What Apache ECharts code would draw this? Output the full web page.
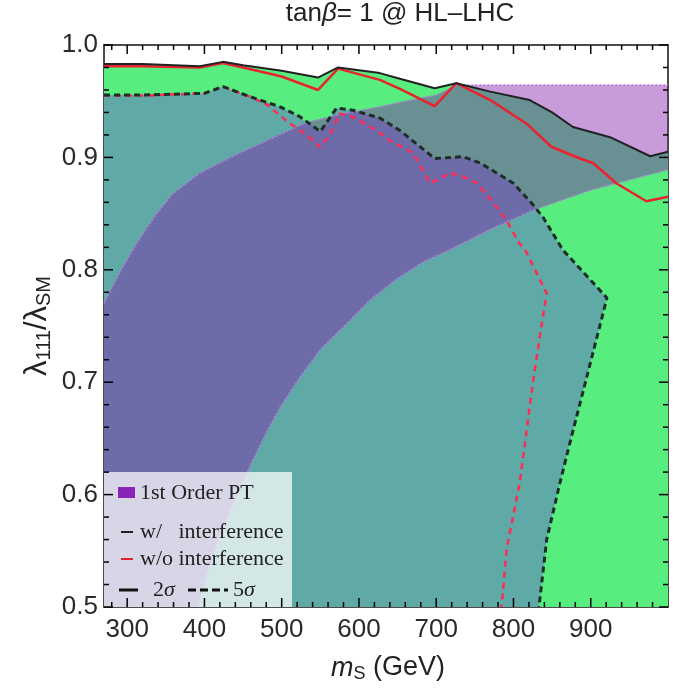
<!DOCTYPE html>
<html>
<head>
<meta charset="utf-8">
<script src="https://cdn.jsdelivr.net/npm/echarts@6/dist/echarts.min.js"></script>
<style>
  html, body { margin: 0; padding: 0; background: #fff; }
  #chart { width: 673px; height: 692px; }
</style>
</head>
<body>
<div id="chart"></div>
<script>
// curves: [m_S (GeV), lambda111 / lambdaSM]
const blackSolid = [[270, 0.983], [320, 0.983], [394, 0.981], [424, 0.985], [450, 0.982], [500, 0.977], [547, 0.971], [573, 0.980], [627, 0.975], [653, 0.970], [698, 0.9615], [726, 0.966], [770, 0.9585], [821, 0.951], [850, 0.940], [877, 0.927], [925, 0.918], [977, 0.901], [1000, 0.905]];
const redSolid = [[270, 0.981], [320, 0.981], [394, 0.980], [424, 0.984], [450, 0.980], [500, 0.972], [547, 0.960], [573, 0.979], [627, 0.969], [653, 0.961], [698, 0.9457], [726, 0.966], [770, 0.951], [817, 0.930], [849, 0.9095], [886, 0.899], [903, 0.895], [933, 0.877], [972, 0.861], [1000, 0.865]];
const blackDashed = [[270, 0.9555], [320, 0.9555], [400, 0.957], [424, 0.963], [459, 0.954], [498, 0.945], [524, 0.936], [550, 0.923], [571, 0.944], [592, 0.942], [627, 0.935], [653, 0.924], [698, 0.899], [735, 0.9006], [757, 0.895], [800, 0.877], [825, 0.858], [838, 0.847], [864, 0.8176], [921, 0.775], [895, 0.705], [873, 0.646], [860, 0.610], [843, 0.560], [834, 0.506], [833, 0.5]];
const redDashed = [[270, 0.955], [320, 0.955], [400, 0.957], [424, 0.963], [459, 0.954], [481, 0.947], [507, 0.932], [524, 0.924], [541, 0.915], [550, 0.909], [563, 0.921], [575, 0.939], [592, 0.936], [623, 0.924], [640, 0.915], [670, 0.904], [692, 0.877], [718, 0.886], [735, 0.883], [753, 0.877], [778, 0.856], [791, 0.844], [808, 0.823], [815, 0.818], [843, 0.779], [838, 0.758], [825, 0.699], [808, 0.610], [791, 0.551], [785, 0.503], [784, 0.5]];
// 1st order phase transition band
const ptUpper = [[270, 0.77], [290, 0.797], [310, 0.821], [335, 0.847], [358, 0.867], [394, 0.886], [437, 0.901], [481, 0.915], [532, 0.931], [580, 0.939], [627, 0.945], [653, 0.949], [700, 0.9555], [727, 0.9644], [1000, 0.9644]];
const ptLower = [[392, 0.5], [405, 0.533], [420, 0.562], [440, 0.596], [460, 0.627], [480, 0.655], [498, 0.678], [524, 0.705], [550, 0.729], [584, 0.752], [614, 0.773], [649, 0.792], [683, 0.807], [718, 0.818], [770, 0.836], [825, 0.853], [900, 0.871], [1000, 0.889]];

const xTicks = [300, 400, 500, 600, 700, 800, 900];
const xMinorTicks = [280, 320, 340, 360, 380, 420, 440, 460, 480, 520, 540, 560, 580, 620, 640, 660, 680, 720, 740, 760, 780, 820, 840, 860, 880, 920, 940, 960, 980];
const yTicks = [0.5, 0.6, 0.7, 0.8, 0.9, 1.0];
const yMinorTicks = [0.52, 0.54, 0.56, 0.58, 0.62, 0.64, 0.66, 0.68, 0.72, 0.74, 0.76, 0.78, 0.82, 0.84, 0.86, 0.88, 0.92, 0.94, 0.96, 0.98];

const X_MIN = 270, X_MAX = 1000, Y_MIN = 0.5, Y_MAX = 1.0;

let chart = echarts.init(document.getElementById("chart"));

function safe(fn) {
  try {
    fn();
  } catch (e) {
    console.error(e);
  }
}

function areaSeries(points, fill) {
  return {
    type: "custom",
    coordinateSystem: "cartesian2d",
    silent: true,
    clip: true,
    data: points,
    renderItem: function (params, api) {
      if (params.dataIndex !== 0) return null;
      return {
        type: "polygon",
        shape: { points: points.map((p) => api.coord(p)) },
        style: { fill: fill },
      };
    },
  };
}

function lineSeries(points, color, width, type) {
  return {
    type: "line",
    data: points,
    symbol: "none",
    silent: true,
    lineStyle: { color: color, width: width, type: type },
  };
}

const greenPoly = blackSolid.concat([[X_MAX, Y_MIN], [X_MIN, Y_MIN]]);
const tealPoly = blackDashed.concat([[X_MIN, Y_MIN]]);
const ptPoly = ptUpper.concat(ptLower.slice().reverse(), [[X_MIN, Y_MIN]]);

const axisCol = "#111";
const tickFont = { fontSize: 26, color: "#2a2a2a", fontFamily: "Liberation Sans" };

function xAxisOf(position, labels) {
  return {
    type: "value",
    min: X_MIN,
    max: X_MAX,
    position: position,
    axisLine: { show: true, lineStyle: { color: axisCol, width: 1.5 } },
    axisTick: { show: false },
    axisLabel: labels
      ? Object.assign({ show: true, customValues: xTicks, margin: 10 }, tickFont)
      : { show: false },
    splitLine: { show: false },
  };
}

function yAxisOf(position, labels) {
  return {
    type: "value",
    min: Y_MIN,
    max: Y_MAX,
    interval: 0.1,
    position: position,
    axisLine: { show: true, lineStyle: { color: axisCol, width: 1.5 } },
    axisTick: { show: false },
    axisLabel: labels
      ? Object.assign({ show: true, margin: 6, formatter: (v) => v.toFixed(1) }, tickFont)
      : { show: false },
    splitLine: { show: false },
  };
}

const legendFont = { fontSize: 22, fontFamily: "Liberation Serif", fill: "#222", verticalAlign: "middle" };
const sigmaRich = {
  n: { fontSize: 22, fontFamily: "Liberation Serif", fill: "#222" },
  g: { fontSize: 22, fontFamily: "Liberation Serif", fontStyle: "italic", fill: "#222" },
};

let graphics = [
  {
    type: "text",
    x: 400,
    y: 14,
    style: {
      text: "{n|tan}{b|β}{n|= 1 @ HL–LHC}",
      align: "center",
      verticalAlign: "middle",
      rich: {
        n: { fontSize: 26, fill: "#222", fontFamily: "Liberation Sans" },
        b: { fontSize: 26, fill: "#222", fontFamily: "Liberation Sans", fontStyle: "italic" },
      },
    },
  },
  // axis titles
  {
    type: "text",
    x: 388,
    y: 668,
    style: {
      text: "{i|m}{s|S}{n| (GeV)}",
      align: "center",
      verticalAlign: "middle",
      rich: {
        i: { fontSize: 27, fontStyle: "italic", fill: "#222", fontFamily: "Liberation Sans" },
        s: { fontSize: 18, fill: "#222", fontFamily: "Liberation Sans", padding: [13, 0, 0, 0] },
        n: { fontSize: 27, fill: "#222", fontFamily: "Liberation Sans" },
      },
    },
  },
  {
    type: "text",
    x: 37,
    y: 326,
    rotation: Math.PI / 2,
    style: {
      text: "{l|λ}{s|111}{l|/λ}{s|SM}",
      align: "center",
      verticalAlign: "middle",
      rich: {
        l: { fontSize: 31, fill: "#222", fontFamily: "Liberation Sans" },
        s: { fontSize: 20, fill: "#222", fontFamily: "Liberation Sans", padding: [14, 0, 0, 0] },
      },
    },
  },
  // legend box
  { type: "rect", shape: { x: 104, y: 472, width: 188, height: 135 }, style: { fill: "rgba(255,255,255,0.72)" }, z: 10 },
  { type: "rect", shape: { x: 118, y: 487, width: 17, height: 11 }, style: { fill: "#8a24b8" }, z: 11 },
  { type: "text", x: 140, y: 493, style: Object.assign({ text: "1st Order PT" }, legendFont), z: 11 },
  { type: "line", shape: { x1: 121, y1: 532, x2: 133, y2: 532 }, style: { stroke: "#222", lineWidth: 2 }, z: 11 },
  { type: "text", x: 140, y: 532, style: Object.assign({ text: "w/   interference" }, legendFont), z: 11 },
  { type: "line", shape: { x1: 121, y1: 559, x2: 133, y2: 559 }, style: { stroke: "#e8222e", lineWidth: 2 }, z: 11 },
  { type: "text", x: 140, y: 559, style: Object.assign({ text: "w/o interference" }, legendFont), z: 11 },
  { type: "line", shape: { x1: 119, y1: 590, x2: 138, y2: 590 }, style: { stroke: "#111", lineWidth: 3 }, z: 11 },
  { type: "text", x: 153, y: 590, z: 11, style: { text: "{n|2}{g|σ}", rich: sigmaRich, verticalAlign: "middle" } },
  { type: "line", shape: { x1: 188, y1: 590, x2: 228, y2: 590 }, style: { stroke: "#111", lineWidth: 3, lineDash: [8, 4] }, z: 11 },
  { type: "text", x: 233, y: 590, z: 11, style: { text: "{n|5}{g|σ}", rich: sigmaRich, verticalAlign: "middle" } },
];

// step 1: frame and axes only
safe(() =>
  chart.setOption({
    animation: false,
    grid: { left: 104, right: 5, top: 45, bottom: 85, containLabel: false },
    xAxis: [xAxisOf("bottom", true), xAxisOf("top", false)],
    yAxis: [yAxisOf("left", true), yAxisOf("right", false)],
  })
);

// step 2: inward ticks on all four sides, placed through the grid's scales
const tickStyle = { stroke: "#000", lineWidth: 1.5 };
let ticks = [];
safe(() => {
  const px = (v) => chart.convertToPixel({ xAxisIndex: 0, yAxisIndex: 0 }, v);
  const addX = (v, len) => {
    const b = px([v, Y_MIN]), t = px([v, Y_MAX]);
    ticks.push({ type: "line", z: 30, shape: { x1: b[0], y1: b[1], x2: b[0], y2: b[1] - len }, style: tickStyle });
    ticks.push({ type: "line", z: 30, shape: { x1: t[0], y1: t[1], x2: t[0], y2: t[1] + len }, style: tickStyle });
  };
  const addY = (v, len) => {
    const l = px([X_MIN, v]), r = px([X_MAX, v]);
    ticks.push({ type: "line", z: 30, shape: { x1: l[0], y1: l[1], x2: l[0] + len, y2: l[1] }, style: tickStyle });
    ticks.push({ type: "line", z: 30, shape: { x1: r[0], y1: r[1], x2: r[0] - len, y2: r[1] }, style: tickStyle });
  };
  xTicks.forEach((v) => addX(v, 9));
  xMinorTicks.forEach((v) => addX(v, 5));
  yTicks.forEach((v) => addY(v, 9));
  yMinorTicks.forEach((v) => addY(v, 5));
});
safe(() => chart.setOption({ graphic: graphics.concat(ticks) }));

// step 3: regions and curves
safe(() =>
  chart.setOption({
    series: [
      areaSeries(greenPoly, "#57ee7f"),
      areaSeries(tealPoly, "#5fa9a7"),
      areaSeries(ptPoly, "rgba(130, 28, 173, 0.44)"),
      lineSeries(ptUpper, "#b57ad8", 1.5, [2, 2]),
      lineSeries(ptLower, "#b57ad8", 1.5, [2, 2]),
      lineSeries(redDashed, "#ff2a55", 2.5, [6, 5]),
      lineSeries(blackDashed, "#1c2e26", 3, [6, 4]),
      lineSeries(redSolid, "#e8222e", 2.5, "solid"),
      lineSeries(blackSolid, "#222222", 2, "solid"),
    ],
  })
);

window.addEventListener("resize", function () {
  chart.resize();
});
</script>
</body>
</html>
